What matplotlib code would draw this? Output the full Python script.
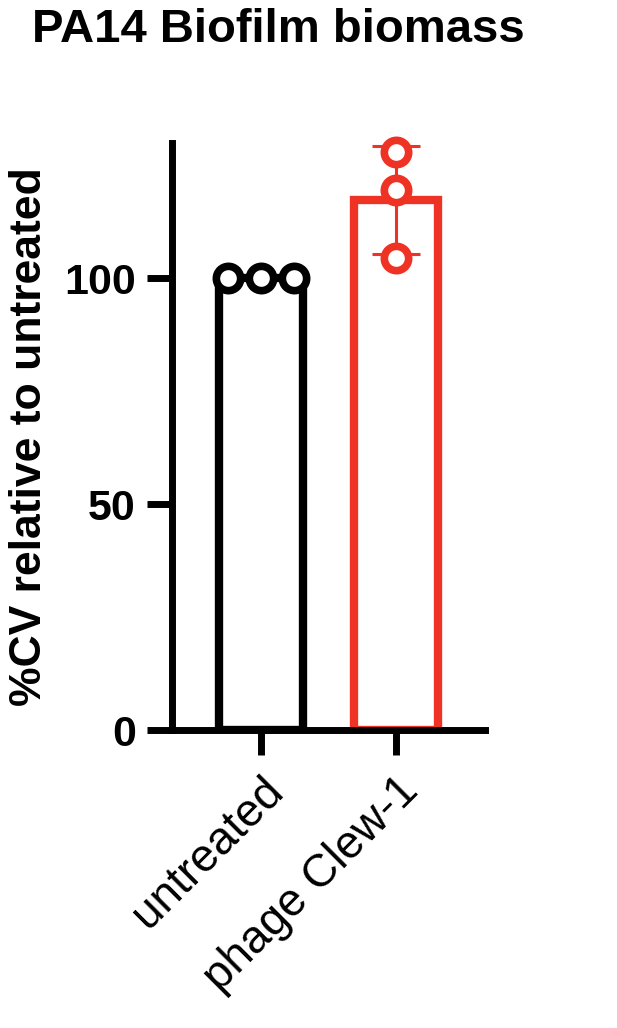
import numpy as np
import matplotlib
matplotlib.use("Agg")
import matplotlib.pyplot as plt

plt.rcParams["font.family"] = ["Liberation Sans", "DejaVu Sans"]

groups = ["untreated", "phage Clew-1"]
untreated = [100.0, 100.0, 100.0]
clew = [128.0, 119.5, 104.5]
colors = ["black", "#EE3224"]

data = [untreated, clew]
means = [np.mean(d) for d in data]
sds = [np.std(d, ddof=1) for d in data]

fig = plt.figure(figsize=(6.17, 10.28), dpi=100)
ax = fig.add_axes([172 / 617, 1 - 730 / 1028, (485 - 172) / 617, (730 - 143) / 1028])

x = np.arange(len(groups))
for i in range(len(groups)):
    ax.bar(x[i], means[i], width=0.62, facecolor="white", edgecolor=colors[i],
           linewidth=6, zorder=2)
    if sds[i] > 0:
        ax.errorbar(x[i], means[i], yerr=sds[i], color=colors[i], capsize=17,
                    capthick=2.2, elinewidth=2.2, zorder=3)

# untreated values are all identical -> spread them sideways like a scatter plot
offsets = [[-0.245, 0.0, 0.245], [0.0, 0.0, 0.0]]
for i, d in enumerate(data):
    ax.plot(x[i] + np.array(offsets[i]), d, "o", ms=17.5, mfc="white",
            mec=colors[i], mew=5.5, zorder=4, clip_on=False)

ax.set_xlim(-0.66, 1.66)
ax.set_ylim(0, 130)
ax.set_yticks([0, 50, 100])
ax.set_xticks(x)
ax.set_xticklabels(groups, rotation=45, ha="right", rotation_mode="anchor",
                   fontsize=33)
for lbl in ax.get_yticklabels():
    lbl.set_fontsize(31)
    lbl.set_fontweight("bold")
ax.tick_params(axis="both", length=18, width=5, pad=8)
ax.tick_params(axis="x", pad=10)

for s in ["top", "right"]:
    ax.spines[s].set_visible(False)
for s in ["left", "bottom"]:
    ax.spines[s].set_linewidth(5)

ax.set_ylabel("%CV relative to untreated", fontsize=32, fontweight="bold",
              labelpad=10)
fig.text(278 / 617, 1 - 42 / 1028, "PA14 Biofilm biomass", ha="center",
         va="baseline", fontsize=34, fontweight="bold")

fig.savefig("out.png", dpi=100)
